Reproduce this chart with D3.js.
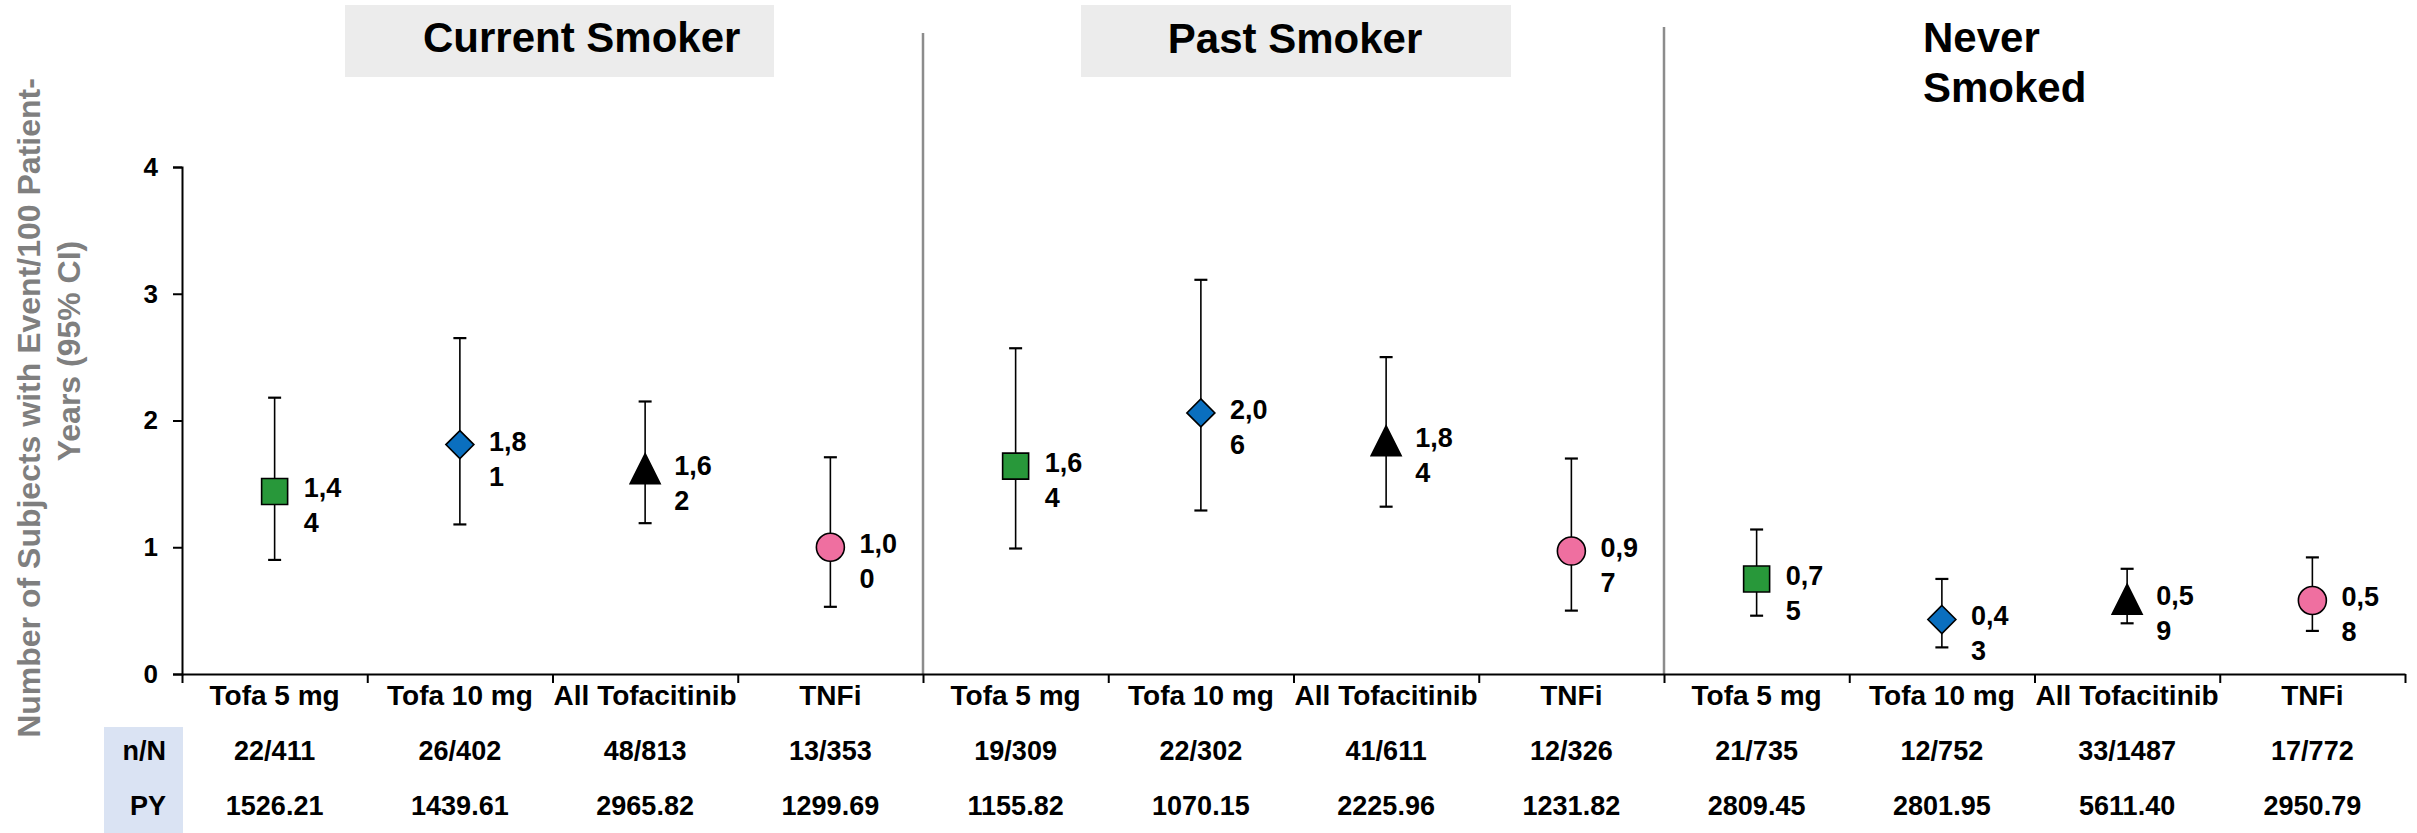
<!DOCTYPE html>
<html>
<head>
<meta charset="utf-8">
<script src="https://cdn.jsdelivr.net/npm/d3@7"></script>
<style>
  html, body { margin: 0; padding: 0; background: #fff; }
  svg { display: block; font-family: "Liberation Sans", Arial, Helvetica, sans-serif; font-weight: bold; }
</style>
</head>
<body>
<svg id="chart" width="2417" height="833"></svg>
<script>
// Smoking-status groups and treatment arms (4 arms per group)
const groups = ["Current Smoker", "Past Smoker", "Never Smoked"];
const treatments = ["Tofa 5 mg", "Tofa 10 mg", "All Tofacitinib", "TNFi"];

// Incidence rate per 100 patient-years, with 95% CI, in group order
const rates   = [1.44, 1.81, 1.62, 1.00, 1.64, 2.06, 1.84, 0.97, 0.75, 0.43, 0.59, 0.58];
const ciLower = [0.90, 1.18, 1.19, 0.53, 0.99, 1.29, 1.32, 0.50, 0.46, 0.21, 0.40, 0.34];
const ciUpper = [2.18, 2.65, 2.15, 1.71, 2.57, 3.11, 2.50, 1.70, 1.14, 0.75, 0.83, 0.92];

// Table rows under the axis
const nOverN = ["22/411", "26/402", "48/813", "13/353", "19/309", "22/302", "41/611", "12/326",
                "21/735", "12/752", "33/1487", "17/772"];
const patientYears = ["1526.21", "1439.61", "2965.82", "1299.69", "1155.82", "1070.15", "2225.96", "1231.82",
                      "2809.45", "2801.95", "5611.40", "2950.79"];

const yTicks = [0, 1, 2, 3, 4];

// ---- layout ----
const W = 2417, H = 833;
const FONT = '"Liberation Sans", Arial, Helvetica, sans-serif';
const plotLeft = 182, plotRight = 2405, plotBottom = 674, plotTop = 167;
const nCols = groups.length * treatments.length;

const svg = d3.select("#chart");

const y = d3.scaleLinear().domain([0, 4]).range([plotBottom, plotTop]);
const xBand = d3.scaleBand().domain(d3.range(nCols)).range([plotLeft, plotRight]);
const xEdge = d3.scaleLinear().domain([0, nCols]).range([plotLeft, plotRight]);

const treatmentOf = i => treatments[i % treatments.length];

// ---- group headers ----
[[345, 774], [1081, 1511]].forEach(([a, b]) => {
  svg.append("rect").attr("x", a).attr("y", 5).attr("width", b - a).attr("height", 72)
    .attr("fill", "#ececec");
});
svg.append("text").attr("x", 423).attr("y", 52).attr("font-size", 42).attr("fill", "#000")
  .text(groups[0]);
svg.append("text").attr("x", 1295).attr("y", 53).attr("font-size", 42).attr("fill", "#000")
  .attr("text-anchor", "middle").text(groups[1]);
const never = svg.append("text").attr("x", 1923).attr("y", 52).attr("font-size", 42).attr("fill", "#000");
never.append("tspan").attr("x", 1923).text(groups[2].split(" ")[0]);
never.append("tspan").attr("x", 1923).attr("dy", 50).text(groups[2].split(" ")[1]);

// ---- group dividers ----
[4, 8].forEach((k, j) => {
  svg.append("line")
    .attr("x1", xEdge(k)).attr("x2", xEdge(k))
    .attr("y1", j === 0 ? 33 : 27).attr("y2", plotBottom)
    .attr("stroke", "#8c8c8c").attr("stroke-width", 2.5);
});

// ---- y axis ----
const yAxis = svg.append("g").attr("transform", `translate(${plotLeft},0)`)
  .call(d3.axisLeft(y).tickValues(yTicks).tickFormat(d3.format("d")).tickSize(9).tickPadding(15))
  .attr("font-family", FONT).attr("font-weight", "bold").attr("font-size", 26);
yAxis.select(".domain").attr("stroke", "#000").attr("stroke-width", 2);
yAxis.selectAll(".tick line").attr("stroke", "#000").attr("stroke-width", 2);
yAxis.selectAll(".tick text").attr("fill", "#000");

// y axis title (two lines)
svg.append("text").attr("transform", "translate(40,408) rotate(-90)")
  .attr("text-anchor", "middle").attr("font-size", 32).attr("fill", "#7f7f7f")
  .text("Number of Subjects with Event/100 Patient-");
svg.append("text").attr("transform", "translate(80,351) rotate(-90)")
  .attr("text-anchor", "middle").attr("font-size", 32).attr("fill", "#7f7f7f")
  .text("Years (95% CI)");

// ---- x axis: boundary ticks ----
const xAxis = svg.append("g").attr("transform", `translate(0,${plotBottom})`)
  .call(d3.axisBottom(xEdge).tickValues(d3.range(nCols + 1)).tickFormat("").tickSize(9).tickSizeOuter(0));
xAxis.select(".domain").attr("stroke", "#000").attr("stroke-width", 2);
xAxis.selectAll(".tick line").attr("stroke", "#000").attr("stroke-width", 2);

// x category labels
const xLabels = svg.append("g").attr("transform", `translate(0,${plotBottom})`)
  .call(d3.axisBottom(xBand).tickSize(0).tickPadding(0).tickFormat(treatmentOf))
  .attr("font-family", FONT).attr("font-weight", "bold").attr("font-size", 28);
xLabels.select(".domain").remove();
xLabels.selectAll(".tick text").attr("fill", "#000").attr("dy", null).attr("y", 31);

// ---- table ----
svg.append("rect").attr("x", 104).attr("y", 727).attr("width", 79).attr("height", H - 727)
  .attr("fill", "#dae3f3");
svg.append("text").attr("x", 166).attr("y", 760).attr("text-anchor", "end").attr("font-size", 27).text("n/N");
svg.append("text").attr("x", 166).attr("y", 815).attr("text-anchor", "end").attr("font-size", 27).text("PY");

const cx = i => xBand(i) + xBand.bandwidth() / 2;

svg.append("g").selectAll("text").data(nOverN).join("text")
  .attr("x", (d, i) => cx(i)).attr("y", 760).attr("text-anchor", "middle").attr("font-size", 27)
  .text(d => d);
svg.append("g").selectAll("text").data(patientYears).join("text")
  .attr("x", (d, i) => cx(i)).attr("y", 815).attr("text-anchor", "middle").attr("font-size", 27)
  .text(d => d);

// ---- error bars ----
const points = rates.map((v, i) => ({ i, v, lo: ciLower[i], hi: ciUpper[i], t: i % treatments.length }));
const eb = svg.append("g").attr("stroke", "#000");
eb.selectAll("line.v").data(points).join("line").attr("class", "v")
  .attr("x1", d => cx(d.i)).attr("x2", d => cx(d.i))
  .attr("y1", d => y(d.lo)).attr("y2", d => y(d.hi)).attr("stroke-width", 1.6);
["lo", "hi"].forEach(k => {
  eb.selectAll("line.c" + k).data(points).join("line").attr("class", "c" + k)
    .attr("x1", d => cx(d.i) - 6.5).attr("x2", d => cx(d.i) + 6.5)
    .attr("y1", d => y(d[k])).attr("y2", d => y(d[k])).attr("stroke-width", 2.2);
});

// ---- markers ----
const markerColors = ["#28983a", "#0a6fbf", "#000000", "#ef6fa0"];
const squareSym = { draw(ctx, s) { const h = Math.sqrt(s) / 2; ctx.rect(-h, -h, 2 * h, 2 * h); } };
const diamondSym = { draw(ctx, s) { const h = Math.sqrt(s) / 2; ctx.moveTo(0, -h); ctx.lineTo(h, 0); ctx.lineTo(0, h); ctx.lineTo(-h, 0); ctx.closePath(); } };
const triangleSym = { draw(ctx, s) { const h = Math.sqrt(s) / 2; ctx.moveTo(0, -h); ctx.lineTo(h, h); ctx.lineTo(-h, h); ctx.closePath(); } };
const circleSym = { draw(ctx, s) { const r = Math.sqrt(s) / 2; ctx.moveTo(r, 0); ctx.arc(0, 0, r, 0, 2 * Math.PI); } };
const markerTypes = [squareSym, diamondSym, triangleSym, circleSym];
const markerSizes = [26, 28, 30, 28];

svg.append("g").selectAll("path").data(points).join("path")
  .attr("transform", d => `translate(${cx(d.i)},${y(d.v)})`)
  .attr("d", d => d3.symbol(markerTypes[d.t], markerSizes[d.t] ** 2)())
  .attr("fill", d => markerColors[d.t])
  .attr("stroke", "#000").attr("stroke-width", 1.6);

// ---- value labels (comma decimal, wrapped after three characters) ----
const fmt = v => d3.format(".2f")(v).replace(".", ",");
const vl = svg.append("g").selectAll("text").data(points).join("text")
  .attr("x", d => cx(d.i) + 29).attr("y", d => y(d.v) + 6).attr("font-size", 27).attr("fill", "#000");
vl.append("tspan").attr("x", d => cx(d.i) + 29).text(d => fmt(d.v).slice(0, 3));
vl.append("tspan").attr("x", d => cx(d.i) + 29).attr("dy", 35).text(d => fmt(d.v).slice(3));
</script>
</body>
</html>
